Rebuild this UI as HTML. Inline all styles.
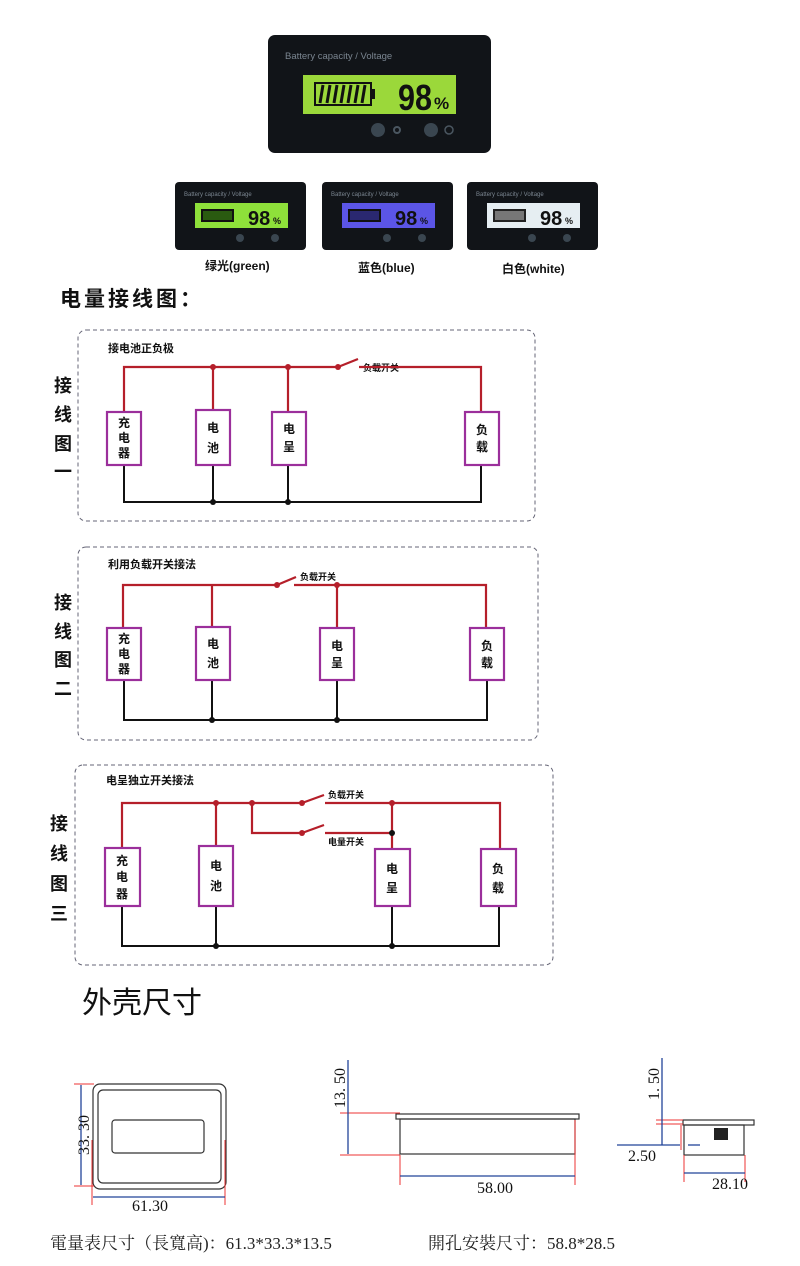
<!DOCTYPE html>
<html><head><meta charset="utf-8"><style>
body{margin:0;background:#fff;}
svg{display:block;}
.cj{font-family:"Liberation Sans","Noto Sans CJK SC",sans-serif;}
</style></head><body>
<svg width="800" height="1266" viewBox="0 0 800 1266" xmlns="http://www.w3.org/2000/svg" class="cj">
<!-- top device -->
<rect x="268" y="35" width="223" height="118" rx="7" fill="#111418"/>
<text x="285" y="59" font-size="9.5" fill="#7a8590">Battery capacity / Voltage</text>
<rect x="303" y="75" width="153" height="39" fill="#9bd83a"/>
<rect x="315" y="83" width="56" height="22" fill="none" stroke="#111" stroke-width="2"/>
<rect x="371" y="89" width="4" height="10" fill="#111"/>
<g stroke="#111" stroke-width="3"><line x1="320" y1="103" x2="323" y2="85"/><line x1="327" y1="103" x2="330" y2="85"/><line x1="334" y1="103" x2="337" y2="85"/><line x1="341" y1="103" x2="344" y2="85"/><line x1="348" y1="103" x2="351" y2="85"/><line x1="355" y1="103" x2="358" y2="85"/><line x1="362" y1="103" x2="365" y2="85"/></g>
<text x="398" y="110" font-size="36" font-weight="bold" fill="#111" textLength="34" lengthAdjust="spacingAndGlyphs">98</text>
<text x="434" y="109" font-size="17" font-weight="bold" fill="#111">%</text>
<circle cx="378" cy="130" r="7" fill="#3a4650"/><circle cx="397" cy="130" r="3" fill="none" stroke="#4a5660" stroke-width="2"/>
<circle cx="431" cy="130" r="7" fill="#3a4650"/><circle cx="449" cy="130" r="4" fill="none" stroke="#4a5660" stroke-width="1.5"/>
<!-- small devices -->
<g>
<rect x="175" y="182" width="131" height="68" rx="4" fill="#111418"/>
<text x="184" y="196" font-size="6" fill="#7a8590">Battery capacity / Voltage</text>
<rect x="195" y="203" width="93" height="25" fill="#8ee03a"/>
<rect x="201" y="209" width="33" height="13" fill="#111"/><rect x="203" y="211" width="29" height="9" fill="#2a5a10"/>
<text x="248" y="225" font-size="20" font-weight="bold" fill="#111">98</text><text x="273" y="224" font-size="9" font-weight="bold" fill="#111">%</text>
<circle cx="240" cy="238" r="4" fill="#3a4650"/><circle cx="275" cy="238" r="4" fill="#3a4650"/>
</g>
<g>
<rect x="322" y="182" width="131" height="68" rx="4" fill="#111418"/>
<text x="331" y="196" font-size="6" fill="#7a8590">Battery capacity / Voltage</text>
<rect x="342" y="203" width="93" height="25" fill="#5b55e6"/>
<rect x="348" y="209" width="33" height="13" fill="#111"/><rect x="350" y="211" width="29" height="9" fill="#2a2870"/>
<text x="395" y="225" font-size="20" font-weight="bold" fill="#111">98</text><text x="420" y="224" font-size="9" font-weight="bold" fill="#111">%</text>
<circle cx="387" cy="238" r="4" fill="#3a4650"/><circle cx="422" cy="238" r="4" fill="#3a4650"/>
</g>
<g>
<rect x="467" y="182" width="131" height="68" rx="4" fill="#111418"/>
<text x="476" y="196" font-size="6" fill="#7a8590">Battery capacity / Voltage</text>
<rect x="487" y="203" width="93" height="25" fill="#e6eef2"/>
<rect x="493" y="209" width="33" height="13" fill="#222"/><rect x="495" y="211" width="29" height="9" fill="#777"/>
<text x="540" y="225" font-size="20" font-weight="bold" fill="#111">98</text><text x="565" y="224" font-size="9" font-weight="bold" fill="#111">%</text>
<circle cx="532" cy="238" r="4" fill="#3a4650"/><circle cx="567" cy="238" r="4" fill="#3a4650"/>
</g>
<g font-size="12" font-weight="bold" fill="#111">
<text x="205" y="270">绿光(green)</text><text x="358" y="272">蓝色(blue)</text><text x="502" y="273">白色(white)</text>
</g>
<text x="60" y="306" font-size="21" font-weight="bold" fill="#111" letter-spacing="3">电量接线图：</text>

<!-- side labels -->
<g font-size="18" font-weight="bold" fill="#111">
<text x="54" y="392">接</text><text x="54" y="421">线</text><text x="54" y="450">图</text><text x="54" y="478">一</text>
<text x="54" y="609">接</text><text x="54" y="638">线</text><text x="54" y="666">图</text><text x="54" y="695">二</text>
<text x="50" y="830">接</text><text x="50" y="860">线</text><text x="50" y="890">图</text><text x="50" y="920">三</text>
</g>

<g fill="none" stroke="#667" stroke-dasharray="4,3" stroke-width="1">
<rect x="78" y="330" width="457" height="191" rx="8"/>
<rect x="78" y="547" width="460" height="193" rx="8"/>
<rect x="75" y="765" width="478" height="200" rx="8"/>
</g>
<g font-size="11" font-weight="bold" fill="#111">
<text x="108" y="352">接电池正负极</text>
<text x="108" y="568">利用负载开关接法</text>
<text x="106" y="784">电呈独立开关接法</text>
<text x="363" y="371" font-size="9">负载开关</text>
<text x="300" y="580" font-size="9">负载开关</text>
<text x="328" y="798" font-size="9">负载开关</text>
<text x="328" y="845" font-size="9">电量开关</text>
</g>

<g stroke="#b51f2a" stroke-width="2.2" fill="none">
<polyline points="124,412 124,367 338,367"/><line x1="338" y1="367" x2="358" y2="359"/>
<polyline points="359,367 481,367 481,412"/>
<line x1="213" y1="367" x2="213" y2="410"/><line x1="288" y1="367" x2="288" y2="412"/>
<polyline points="123,628 123,585 277,585"/><line x1="277" y1="585" x2="296" y2="577"/>
<polyline points="294,585 486,585 486,628"/>
<line x1="212" y1="585" x2="212" y2="627"/><line x1="337" y1="585" x2="337" y2="628"/>
<polyline points="122,848 122,803 302,803"/><line x1="302" y1="803" x2="324" y2="795"/>
<polyline points="325,803 500,803 500,848"/>
<polyline points="252,803 252,833 302,833"/><line x1="302" y1="833" x2="324" y2="825"/>
<line x1="325" y1="833" x2="392" y2="833"/>
<line x1="216" y1="803" x2="216" y2="846"/><line x1="392" y1="803" x2="392" y2="848"/>
</g>
<g fill="#b51f2a">
<circle cx="213" cy="367" r="3"/><circle cx="288" cy="367" r="3"/><circle cx="338" cy="367" r="3"/>
<circle cx="337" cy="585" r="3"/><circle cx="277" cy="585" r="3"/>
<circle cx="216" cy="803" r="3"/><circle cx="252" cy="803" r="3"/><circle cx="302" cy="803" r="3"/><circle cx="392" cy="803" r="3"/><circle cx="302" cy="833" r="3"/><circle cx="392" cy="833" r="3" fill="#111"/>
</g>
<g stroke="#111" stroke-width="2" fill="none">
<polyline points="124,465 124,502 481,502 481,465"/><line x1="213" y1="465" x2="213" y2="502"/><line x1="288" y1="465" x2="288" y2="502"/>
<polyline points="124,680 124,720 487,720 487,680"/><line x1="212" y1="680" x2="212" y2="720"/><line x1="337" y1="680" x2="337" y2="720"/>
<polyline points="122,906 122,946 499,946 499,906"/><line x1="216" y1="906" x2="216" y2="946"/><line x1="392" y1="906" x2="392" y2="946"/>
</g>
<g fill="#111"><circle cx="213" cy="502" r="3"/><circle cx="288" cy="502" r="3"/><circle cx="212" cy="720" r="3"/><circle cx="337" cy="720" r="3"/><circle cx="216" cy="946" r="3"/><circle cx="392" cy="946" r="3"/></g>
<g fill="#fff" stroke="#9b2f9b" stroke-width="2.2">
<rect x="107" y="412" width="34" height="53"/><rect x="196" y="410" width="34" height="55"/><rect x="272" y="412" width="34" height="53"/><rect x="465" y="412" width="34" height="53"/>
<rect x="107" y="628" width="34" height="52"/><rect x="196" y="627" width="34" height="53"/><rect x="320" y="628" width="34" height="52"/><rect x="470" y="628" width="34" height="52"/>
<rect x="105" y="848" width="35" height="58"/><rect x="199" y="846" width="34" height="60"/><rect x="375" y="849" width="35" height="57"/><rect x="481" y="849" width="35" height="57"/>
</g>
<g font-size="12" font-weight="bold" fill="#111" text-anchor="middle">
<text x="124" y="427">充</text><text x="124" y="442">电</text><text x="124" y="457">器</text>
<text x="213" y="432">电</text><text x="213" y="452">池</text>
<text x="289" y="433">电</text><text x="289" y="451">呈</text>
<text x="482" y="434">负</text><text x="482" y="451">载</text>
<text x="124" y="643">充</text><text x="124" y="658">电</text><text x="124" y="673">器</text>
<text x="213" y="648">电</text><text x="213" y="667">池</text>
<text x="337" y="650">电</text><text x="337" y="667">呈</text>
<text x="487" y="650">负</text><text x="487" y="667">载</text>
<text x="122" y="865">充</text><text x="122" y="881">电</text><text x="122" y="898">器</text>
<text x="216" y="870">电</text><text x="216" y="890">池</text>
<text x="392" y="873">电</text><text x="392" y="892">呈</text>
<text x="498" y="873">负</text><text x="498" y="892">载</text>
</g>

<text x="82" y="1013" font-size="30" fill="#111">外壳尺寸</text>

<!-- dimension drawings -->
<g fill="none" stroke="#333" stroke-width="1.2">
<rect x="93" y="1084" width="133" height="105" rx="7"/>
<rect x="98" y="1090" width="123" height="93" rx="5"/>
<rect x="112" y="1120" width="92" height="33" rx="3"/>
<rect x="396" y="1114" width="183" height="5"/>
<rect x="400" y="1119" width="175" height="35"/>
<rect x="683" y="1120" width="71" height="5"/>
<rect x="684" y="1125" width="60" height="30"/>
</g>
<rect x="714" y="1128" width="14" height="12" fill="#222"/>
<g stroke="#e33" stroke-width="1">
<line x1="74" y1="1084" x2="94" y2="1084"/><line x1="74" y1="1186" x2="94" y2="1186"/>
<line x1="92" y1="1140" x2="92" y2="1205"/><line x1="225" y1="1140" x2="225" y2="1205"/>
<line x1="340" y1="1113" x2="400" y2="1113"/><line x1="340" y1="1155" x2="400" y2="1155"/>
<line x1="400" y1="1155" x2="400" y2="1185"/><line x1="575" y1="1120" x2="575" y2="1185"/>
<line x1="656" y1="1120" x2="683" y2="1120"/><line x1="656" y1="1124" x2="683" y2="1124"/>
<line x1="681" y1="1125" x2="681" y2="1150"/><line x1="684" y1="1155" x2="684" y2="1182"/><line x1="745" y1="1155" x2="745" y2="1182"/>
</g>
<g stroke="#224499" stroke-width="1.3">
<line x1="81" y1="1085" x2="81" y2="1185"/><line x1="93" y1="1197" x2="225" y2="1197"/>
<line x1="348" y1="1060" x2="348" y2="1154"/>
<line x1="400" y1="1176" x2="575" y2="1176"/>
<line x1="662" y1="1058" x2="662" y2="1145"/><line x1="617" y1="1145" x2="680" y2="1145"/><line x1="688" y1="1145" x2="700" y2="1145"/>
<line x1="684" y1="1173" x2="745" y2="1173"/>
</g>
<g font-family="Liberation Serif,serif" font-size="16" fill="#111">
<text x="150" y="1211" text-anchor="middle">61.30</text>
<text x="89" y="1135" transform="rotate(-90 89 1135)" text-anchor="middle">33. 30</text>
<text x="345" y="1088" transform="rotate(-90 345 1088)" text-anchor="middle">13. 50</text>
<text x="495" y="1193" text-anchor="middle">58.00</text>
<text x="659" y="1084" transform="rotate(-90 659 1084)" text-anchor="middle">1. 50</text>
<text x="642" y="1161" text-anchor="middle">2.50</text>
<text x="730" y="1189" text-anchor="middle">28.10</text>
</g>
<g font-family="Liberation Serif,'Noto Serif CJK SC',serif" font-size="17" fill="#222">
<text x="50" y="1249">電量表尺寸（長寬高)：61.3*33.3*13.5</text>
<text x="428" y="1249">開孔安裝尺寸：58.8*28.5</text>
</g>
</svg>
</body></html>
